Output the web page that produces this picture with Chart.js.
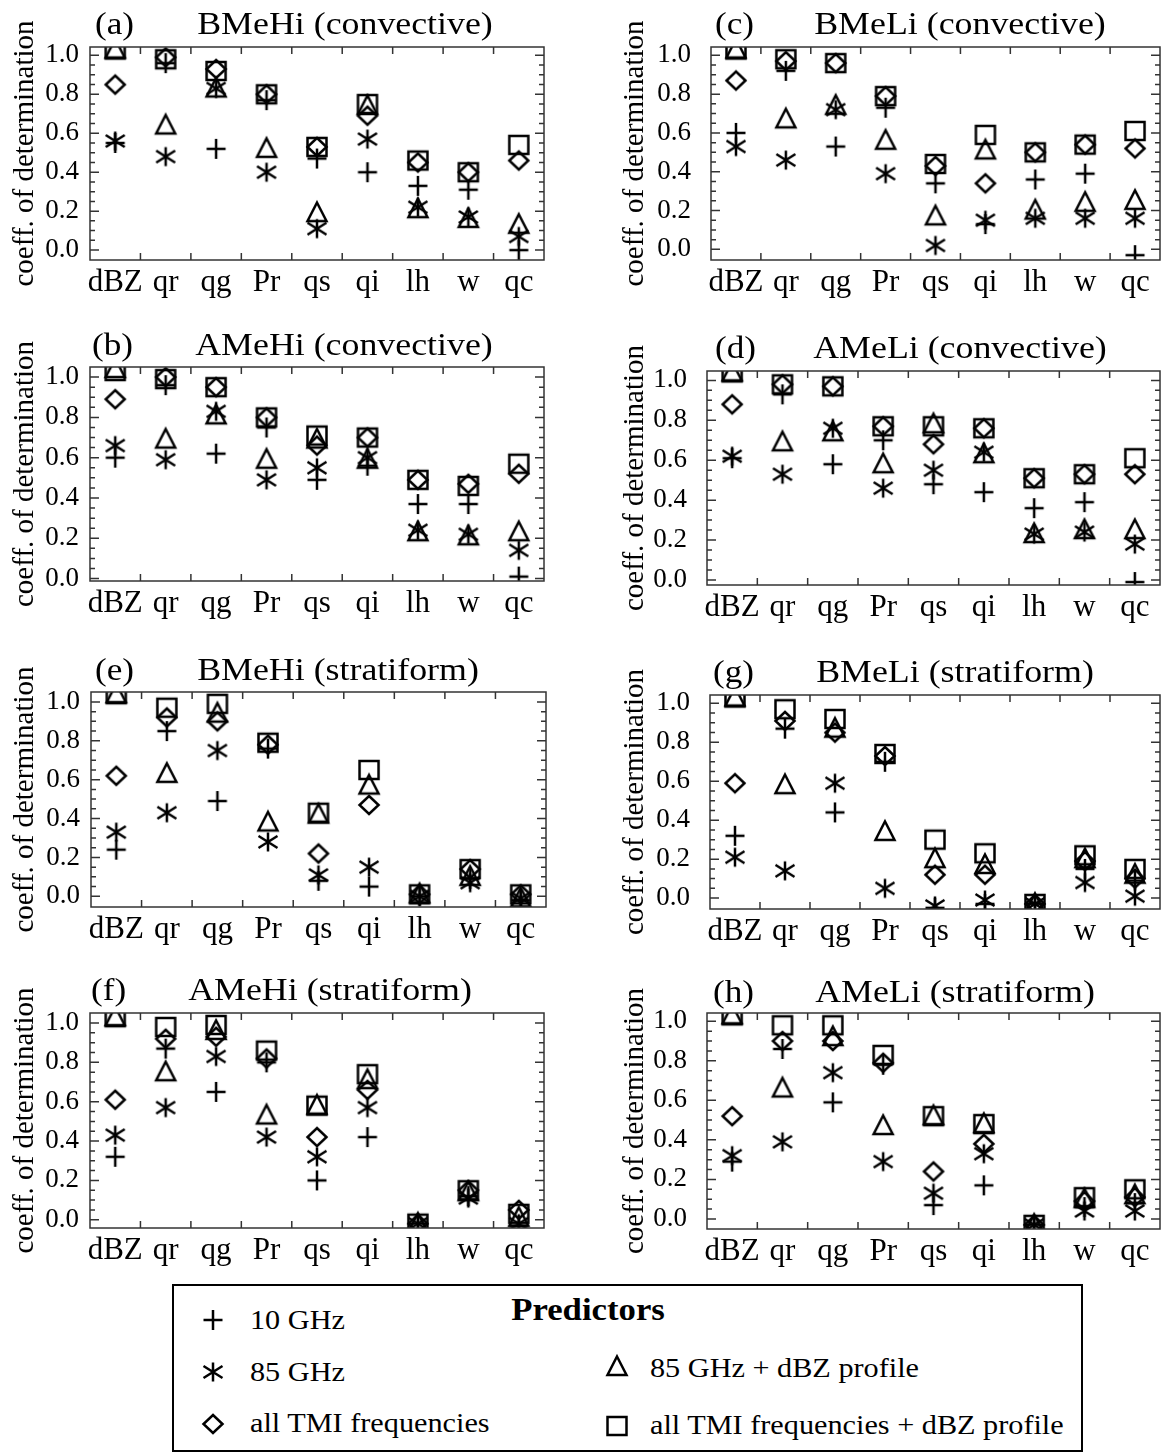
<!DOCTYPE html>
<html>
<head>
<meta charset="utf-8">
<script src="https://cdn.jsdelivr.net/npm/chart.js@4.4.1/dist/chart.umd.min.js"></script>
<style>
  body { margin: 0; background: #fff; }
  #page { position: relative; width: 1164px; height: 1452px; overflow: hidden; font-family: "Liberation Serif", "Times New Roman", serif; color: #000; }
  #page canvas.plot { position: absolute; }
  .txt { position: absolute; white-space: nowrap; line-height: 1; }
  #legend { position: absolute; left: 172px; top: 1284px; width: 907px; height: 164px; border: 2px solid #000; }
</style>
</head>
<body>
<div id="page"></div>
<script>
// categorias del eje x y etiquetas del eje y
const categories = ['dBZ', 'qr', 'qg', 'Pr', 'qs', 'qi', 'lh', 'w', 'qc'];
const yTickValues = [0.0, 0.2, 0.4, 0.6, 0.8, 1.0];
const predictorNames = ['10 GHz', '85 GHz', '85 GHz + dBZ profile', 'all TMI frequencies', 'all TMI frequencies + dBZ profile'];

// (a) BMeHi (convective)
const aPlus = [0.55, 0.96, 0.52, 0.77, 0.47, 0.40, 0.33, 0.31, 0.00];
const aStar = [0.56, 0.48, 0.83, 0.40, 0.11, 0.57, 0.22, 0.17, 0.07];
const aTri  = [1.03, 0.64, 0.83, 0.52, 0.19, 0.74, 0.21, 0.16, 0.13];
const aDia  = [0.85, 0.99, 0.93, 0.80, 0.53, 0.69, 0.45, 0.40, 0.46];
const aSq   = [1.03, 0.98, 0.92, 0.80, 0.53, 0.75, 0.46, 0.40, 0.54];

// (b) AMeHi (convective)
const bPlus = [0.60, 0.96, 0.62, 0.75, 0.49, 0.56, 0.37, 0.37, 0.01];
const bStar = [0.66, 0.59, 0.83, 0.49, 0.55, 0.60, 0.24, 0.22, 0.14];
const bTri  = [1.04, 0.69, 0.81, 0.59, 0.69, 0.59, 0.23, 0.21, 0.23];
const bDia  = [0.89, 1.00, 0.95, 0.80, 0.66, 0.70, 0.49, 0.47, 0.52];
const bSq   = [1.03, 0.99, 0.95, 0.80, 0.71, 0.70, 0.49, 0.46, 0.57];

// (c) BMeLi (convective)
const cPlus = [0.60, 0.92, 0.53, 0.73, 0.34, 0.13, 0.36, 0.39, -0.03];
const cStar = [0.53, 0.46, 0.72, 0.39, 0.02, 0.15, 0.16, 0.16, 0.16];
const cTri  = [1.03, 0.67, 0.74, 0.56, 0.17, 0.51, 0.20, 0.24, 0.25];
const cDia  = [0.87, 0.97, 0.96, 0.79, 0.43, 0.34, 0.50, 0.54, 0.52];
const cSq   = [1.03, 0.98, 0.96, 0.79, 0.44, 0.59, 0.50, 0.54, 0.61];

// (d) AMeLi (convective)
const dPlus = [0.61, 0.93, 0.58, 0.70, 0.48, 0.44, 0.36, 0.39, -0.01];
const dStar = [0.62, 0.53, 0.76, 0.46, 0.55, 0.64, 0.23, 0.24, 0.18];
const dTri  = [1.04, 0.69, 0.74, 0.58, 0.78, 0.63, 0.23, 0.25, 0.25];
const dDia  = [0.88, 0.98, 0.97, 0.77, 0.68, 0.76, 0.51, 0.53, 0.53];
const dSq   = [1.04, 0.98, 0.97, 0.77, 0.77, 0.76, 0.51, 0.53, 0.61];

// (e) BMeHi (stratiform)
const ePlus = [0.24, 0.85, 0.49, 0.76, 0.08, 0.05, 0.00, 0.09, -0.02];
const eStar = [0.33, 0.43, 0.75, 0.28, 0.11, 0.15, 0.00, 0.07, -0.01];
const eTri  = [1.04, 0.63, 0.94, 0.38, 0.42, 0.57, 0.01, 0.10, -0.01];
const eDia  = [0.62, 0.92, 0.90, 0.78, 0.22, 0.47, 0.01, 0.14, 0.01];
const eSq   = [1.04, 0.97, 0.99, 0.79, 0.43, 0.65, 0.01, 0.14, 0.01];

// (f) AMeHi (stratiform)
const fPlus = [0.32, 0.87, 0.65, 0.80, 0.20, 0.42, -0.02, 0.12, -0.03];
const fStar = [0.43, 0.57, 0.83, 0.42, 0.32, 0.57, -0.02, 0.11, -0.02];
const fTri  = [1.03, 0.75, 0.96, 0.53, 0.58, 0.71, -0.02, 0.14, 0.01];
const fDia  = [0.61, 0.92, 0.93, 0.82, 0.42, 0.66, -0.02, 0.15, 0.05];
const fSq   = [1.03, 0.98, 0.99, 0.86, 0.58, 0.74, -0.02, 0.15, 0.03];

// (g) BMeLi (stratiform)
const gPlus = [0.32, 0.87, 0.44, 0.70, -0.05, -0.03, -0.03, 0.15, 0.09];
const gStar = [0.21, 0.14, 0.59, 0.05, -0.04, -0.01, -0.03, 0.08, 0.01];
const gTri  = [1.03, 0.58, 0.87, 0.34, 0.20, 0.17, -0.03, 0.20, 0.12];
const gDia  = [0.59, 0.91, 0.85, 0.73, 0.12, 0.12, -0.03, 0.19, 0.10];
const gSq   = [1.03, 0.97, 0.92, 0.74, 0.30, 0.23, -0.03, 0.22, 0.15];

// (h) AMeLi (stratiform)
const hPlus = [0.29, 0.86, 0.59, 0.78, 0.07, 0.17, -0.03, 0.06, 0.08];
const hStar = [0.32, 0.39, 0.74, 0.29, 0.13, 0.33, -0.03, 0.04, 0.04];
const hTri  = [1.03, 0.66, 0.92, 0.47, 0.52, 0.48, -0.03, 0.10, 0.12];
const hDia  = [0.52, 0.90, 0.90, 0.79, 0.24, 0.38, -0.03, 0.09, 0.11];
const hSq   = [1.03, 0.98, 0.98, 0.83, 0.52, 0.48, -0.03, 0.11, 0.15];

// paneles: area = [izq, der, arriba, abajo] del area de trazado
const panels = [
  { tag: '(a)', title: 'BMeHi (convective)', series: [aPlus, aStar, aTri, aDia, aSq], yMin: -0.051, yMax: 1.043, area: [90, 544, 47, 260], col: 0, tagX: 95, titleX: 345, base: 34 },
  { tag: '(b)', title: 'AMeHi (convective)', series: [bPlus, bStar, bTri, bDia, bSq], yMin: -0.012, yMax: 1.05, area: [90, 544, 367, 581], col: 0, tagX: 92, titleX: 344, base: 355 },
  { tag: '(e)', title: 'BMeHi (stratiform)', series: [ePlus, eStar, eTri, eDia, eSq], yMin: -0.055, yMax: 1.051, area: [91, 546, 692, 907], col: 0, tagX: 95, titleX: 338, base: 680 },
  { tag: '(f)', title: 'AMeHi (stratiform)', series: [fPlus, fStar, fTri, fDia, fSq], yMin: -0.042, yMax: 1.051, area: [90, 544, 1013, 1228], col: 0, tagX: 91, titleX: 330, base: 1000 },
  { tag: '(c)', title: 'BMeLi (convective)', series: [cPlus, cStar, cTri, cDia, cSq], yMin: -0.055, yMax: 1.043, area: [711, 1160, 47, 260], col: 1, tagX: 715, titleX: 960, base: 34 },
  { tag: '(d)', title: 'AMeLi (convective)', series: [dPlus, dStar, dTri, dDia, dSq], yMin: -0.025, yMax: 1.047, area: [707, 1160, 371, 585], col: 1, tagX: 715, titleX: 960, base: 358 },
  { tag: '(g)', title: 'BMeLi (stratiform)', series: [gPlus, gStar, gTri, gDia, gSq], yMin: -0.056, yMax: 1.043, area: [710, 1160, 695, 909], col: 1, tagX: 713, titleX: 955, base: 682 },
  { tag: '(h)', title: 'AMeLi (stratiform)', series: [hPlus, hStar, hTri, hDia, hSq], yMin: -0.051, yMax: 1.042, area: [707, 1160, 1013, 1229], col: 1, tagX: 713, titleX: 955, base: 1002 }
];

const SERIF = '"Liberation Serif", "Times New Roman", serif';
Chart.defaults.font.family = SERIF;
Chart.defaults.color = '#000';

const page = document.getElementById('page');

// simbolos dibujados a mano: +, asterisco, triangulo, rombo, cuadrado
function makeMarker(kind) {
  const c = document.createElement('canvas');
  c.width = 28; c.height = 28;
  const g = c.getContext('2d');
  g.strokeStyle = '#000';
  g.lineWidth = 2.5;
  g.translate(14, 14);
  g.beginPath();
  if (kind === 'plus') {
    g.moveTo(-9.5, 0); g.lineTo(9.5, 0); g.moveTo(0, -10); g.lineTo(0, 10);
  } else if (kind === 'star') {
    g.moveTo(0, -9.5); g.lineTo(0, 9.5);
    g.moveTo(-9.5, -6); g.lineTo(9.5, 6);
    g.moveTo(-9.5, 6); g.lineTo(9.5, -6);
  } else if (kind === 'tri') {
    g.moveTo(0, -10.5); g.lineTo(9.5, 8); g.lineTo(-9.5, 8); g.closePath();
  } else if (kind === 'dia') {
    g.moveTo(0, -9); g.lineTo(9.5, 0); g.lineTo(0, 9); g.lineTo(-9.5, 0); g.closePath();
  } else {
    g.rect(-9.5, -9, 19, 18);
  }
  g.stroke();
  return c;
}
const markerKinds = ['plus', 'star', 'tri', 'dia', 'sq'];
const markers = markerKinds.map(makeMarker);

// texto posicionado por su linea base
function addText(parent, text, x, baseline, size, opts = {}) {
  const d = document.createElement('div');
  d.className = 'txt';
  d.textContent = text;
  d.style.fontSize = size + 'px';
  d.style.top = (baseline - 0.84 * size) + 'px';
  d.style.left = x + 'px';
  if (opts.bold) d.style.fontWeight = 'bold';
  const sx = opts.sx || 1.1;
  d.style.transformOrigin = '0 0';
  d.style.transform = opts.center ? `scaleX(${sx}) translateX(-50%)` : `scaleX(${sx})`;
  parent.appendChild(d);
  return d;
}

// marco y marcas hacia adentro en los cuatro lados
const frameTicks = {
  id: 'frameTicks',
  afterDatasetsDraw(chart) {
    const { ctx, chartArea: ar, scales: { x, y } } = chart;
    ctx.save();
    ctx.strokeStyle = '#333';
    ctx.lineWidth = 1.5;
    ctx.strokeRect(ar.left, ar.top, ar.right - ar.left, ar.bottom - ar.top);
    ctx.beginPath();
    for (let k = 0; k <= 20; k++) {
      const py = y.getPixelForValue(k * 0.05);
      if (py < ar.top || py > ar.bottom) continue;
      const len = k % 4 === 0 ? 9 : 5;
      ctx.moveTo(ar.left, py); ctx.lineTo(ar.left + len, py);
      ctx.moveTo(ar.right, py); ctx.lineTo(ar.right - len, py);
    }
    for (let i = 0; i < categories.length - 1; i++) {
      const px = (x.getPixelForValue(i) + x.getPixelForValue(i + 1)) / 2;
      ctx.moveTo(px, ar.bottom); ctx.lineTo(px, ar.bottom - 7);
      ctx.moveTo(px, ar.top); ctx.lineTo(px, ar.top + 7);
    }
    ctx.stroke();
    ctx.restore();
  }
};

// margenes grandes para que chart.js no encoja el area de trazado
const PT = 45, PR = 30, XH = 46;

panels.forEach(p => {
  const [cl, cr, ct, cb] = p.area;
  const canvasLeft = p.col === 0 ? 0 : 610;
  const yw = cl - canvasLeft;
  const w = cr + PR - canvasLeft;
  const h = (cb - ct) + PT + XH;

  const cv = document.createElement('canvas');
  cv.className = 'plot';
  cv.width = w; cv.height = h;
  cv.style.left = canvasLeft + 'px';
  cv.style.top = (ct - PT) + 'px';
  cv.style.width = w + 'px';
  cv.style.height = h + 'px';
  page.appendChild(cv);

  new Chart(cv.getContext('2d'), {
    type: 'line',
    data: {
      labels: categories,
      datasets: p.series.map((vals, i) => ({
        label: predictorNames[i],
        data: vals,
        showLine: false,
        pointStyle: markers[i],
        pointRadius: 9,
        clip: 0
      }))
    },
    options: {
      responsive: false,
      animation: false,
      events: [],
      layout: { padding: { top: PT, right: PR, left: 0, bottom: 0 } },
      plugins: { legend: { display: false }, tooltip: { enabled: false } },
      scales: {
        x: {
          type: 'category',
          offset: true,
          grid: { display: false, drawTicks: false },
          border: { display: false },
          ticks: { font: { size: 31 }, padding: 4, maxRotation: 0, autoSkip: false },
          afterFit: s => { s.height = XH; }
        },
        y: {
          min: p.yMin,
          max: p.yMax,
          grid: { display: false, drawTicks: false },
          border: { display: false },
          afterBuildTicks: s => { s.ticks = yTickValues.map(v => ({ value: v })); },
          ticks: { font: { size: 27 }, padding: p.col === 0 ? 11 : 20, callback: v => Number(v).toFixed(1) },
          title: { display: true, text: 'coeff. of determination', font: { size: 29 }, padding: { top: 7.6, bottom: 0 } },
          afterFit: s => { s.width = yw; }
        }
      }
    },
    plugins: [frameTicks]
  });

  addText(page, p.tag, p.tagX, p.base, 32);
  addText(page, p.title, p.titleX, p.base, 32, { center: true, sx: 1.12 });
});

// leyenda
const legend = document.createElement('div');
legend.id = 'legend';
page.appendChild(legend);

addText(page, 'Predictors', 588, 1320, 31, { bold: true, center: true, sx: 1.12 });

const legendItems = [
  { m: 0, x: 213, y: 1320, tx: 250, base: 1330 },
  { m: 1, x: 213, y: 1372, tx: 250, base: 1382 },
  { m: 3, x: 213, y: 1424, tx: 250, base: 1433 },
  { m: 2, x: 617, y: 1367, tx: 650, base: 1378 },
  { m: 4, x: 617, y: 1426, tx: 650, base: 1435 }
];
legendItems.forEach(it => {
  const c = makeMarker(markerKinds[it.m]);
  c.style.position = 'absolute';
  c.style.left = (it.x - 14) + 'px';
  c.style.top = (it.y - 14) + 'px';
  page.appendChild(c);
  addText(page, predictorNames[it.m], it.tx, it.base, 27, { sx: 1.12 });
});
</script>
</body>
</html>
